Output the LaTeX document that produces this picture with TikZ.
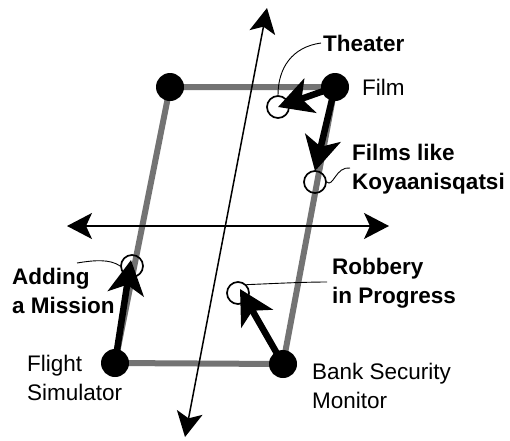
\documentclass[tikz,border=0pt]{standalone}
\usepackage{fontspec}
\setmainfont{Liberation Sans}
\usetikzlibrary{arrows.meta}
\begin{document}
\begin{tikzpicture}[x=1pt,y=-1pt,
  edge/.style={draw=black!55,line width=6pt},
  axis/.style={draw=black,line width=1.5pt,
    {Stealth[length=25pt,width=26pt,inset=6pt]}-{Stealth[length=25pt,width=26pt,inset=6pt]}},
  push/.style={draw=black,line width=6.5pt,
    -{Stealth[length=34pt,width=36pt,inset=9pt]}},
  dot/.style={circle,fill=black,minimum size=28pt,inner sep=0pt},
  ring/.style={circle,draw=black,line width=1.7pt,minimum size=22pt,inner sep=0pt},
  leader/.style={draw=black,line width=0.9pt},
  lbl/.style={font=\fontsize{22.5}{28.5}\selectfont,align=left,inner sep=0pt,anchor=west},
  blbl/.style={lbl,font=\fontsize{22.5}{28.5}\selectfont\bfseries}]
\useasboundingbox (0,0) rectangle (510,440);

% corners of the parallelogram
\coordinate (tl) at (170,87);
\coordinate (tr) at (335,87);
\coordinate (br) at (283,364);
\coordinate (bl) at (115,363);
\draw[edge] (tl) -- (tr) -- (br) -- (bl) -- cycle;

% axes
\coordinate (vtop) at (267,8);
\coordinate (vbot) at (185,437);
\coordinate (hleft) at (67,226);
\coordinate (hright) at (389,226);
\draw[axis] (vbot) -- (vtop);
\draw[axis] (hleft) -- (hright);

% product points
\node[dot] (simtl) at (tl) {};
\node[dot] (film) at (tr) {};
\node[dot] (bank) at (br) {};
\node[dot] (flight) at (bl) {};

% feature circles
\node[ring] (theater) at (278,107) {};
\node[ring] (koy) at (315,182) {};
\node[ring] (mission) at (132,266) {};
\node[ring] (robbery) at (238,293) {};

% moves
\draw[push] (film.center) -- (theater.center);
\draw[push] (film.center) -- ([yshift=-1pt]koy.north);
\draw[push] (flight.center) -- ([shift={(-1pt,6pt)}]mission.center);
\draw[push] (bank.center) -- ([shift={(2pt,4pt)}]robbery.center);

% labels
\node[blbl] (ltheater) at (323,43) {Theater};
\node[lbl] (lfilm) at (362,87) {Film};
\node[blbl] (lkoy) at (352,169) {Films like\\Koyaanisqatsi};
\node[blbl] (lmission) at (12,291) {Adding\\a Mission};
\node[blbl] (lrobbery) at (332,283) {Robbery\\in Progress};
\node[lbl] (lbank) at (312,386) {Bank Security\\Monitor};
\node[lbl] (lflight) at (27,378) {Flight\\Simulator};

% leader lines
\draw[leader] ([xshift=-2pt]ltheater.west) .. controls (292,47) and (278,68) .. (theater.north);
\draw[leader] (koy.east) .. controls (333,188) and (336,166) .. (350,168);
\draw[leader] (77,263) .. controls (95,260) and (110,259) .. (mission.west);
\draw[leader] (robbery.north east) .. controls (265,284) and (300,282) .. (327,282);
\end{tikzpicture}
\end{document}
